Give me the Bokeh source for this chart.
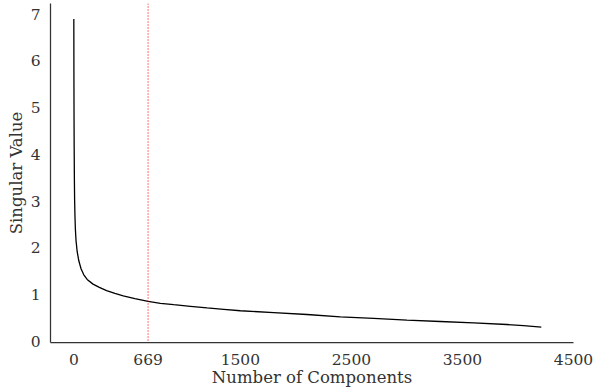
from bokeh.plotting import figure
from bokeh.models import FixedTicker, Span, Range1d
from bokeh.embed import file_html
from bokeh.resources import INLINE

components = [0, 1, 2, 3, 5, 7, 10, 14, 20, 30, 45, 65, 90, 120, 173, 230, 295, 370,
              445, 550, 669, 780, 900, 1050, 1200, 1350, 1500, 1800, 2100, 2400, 2700,
              3000, 3300, 3600, 3900, 4050, 4210]
singular_values = [6.90, 5.60, 4.80, 4.20, 3.50, 3.05, 2.70, 2.40, 2.15, 1.92, 1.72,
                   1.55, 1.42, 1.32, 1.22, 1.15, 1.08, 1.02, 0.97, 0.91, 0.85, 0.81,
                   0.78, 0.745, 0.71, 0.68, 0.65, 0.61, 0.57, 0.52, 0.485, 0.45, 0.42,
                   0.39, 0.355, 0.33, 0.30]
cutoff = 669
x_ticks = [0, 669, 1500, 2500, 3500, 4500]
y_ticks = [0, 1, 2, 3, 4, 5, 6, 7]

FONT = "DejaVu Serif"
TXT = "#333333"

p = figure(width=614, height=389, output_backend="svg", toolbar_location=None,
           x_range=Range1d(-210, 4500), y_range=Range1d(-0.03, 7.23),
           min_border_left=50, min_border_right=41, min_border_top=3, min_border_bottom=44)

p.line(components, singular_values, line_color="black", line_width=1.3)

p.add_layout(Span(location=cutoff, dimension="height", line_color="red",
                  line_alpha=0.9, line_width=1.2, line_dash="1 2"))

p.xgrid.visible = False
p.ygrid.visible = False
p.outline_line_color = None
p.background_fill_color = "white"
p.border_fill_color = "white"

for ax in (p.xaxis[0], p.yaxis[0]):
    ax.axis_line_color = TXT
    ax.axis_line_width = 1.25
    ax.major_tick_line_color = None
    ax.minor_tick_line_color = None
    ax.major_label_text_font = FONT
    ax.major_label_text_font_size = "15.5px"
    ax.major_label_text_color = TXT
    ax.axis_label_text_font = FONT
    ax.axis_label_text_font_size = "16.5px"
    ax.axis_label_text_color = TXT
    ax.axis_label_text_font_style = "normal"

p.xaxis.ticker = FixedTicker(ticks=x_ticks)
p.yaxis.ticker = FixedTicker(ticks=y_ticks)
p.xaxis.axis_label = "Number of Components"
p.yaxis.axis_label = "Singular Value"
p.xaxis.major_label_standoff = 5
p.yaxis.major_label_standoff = 4
p.xaxis.axis_label_standoff = 0
p.yaxis.axis_label_standoff = 2

open("out.html", "w").write(file_html(p, INLINE))
